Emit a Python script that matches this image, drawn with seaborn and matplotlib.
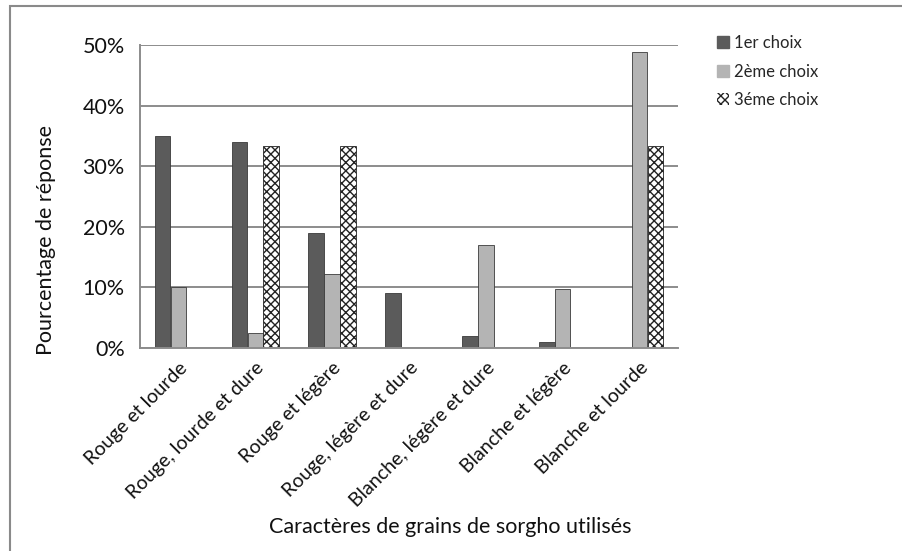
import matplotlib
matplotlib.use("Agg")
import matplotlib.pyplot as plt
import matplotlib.patches as mpatches
from matplotlib.ticker import PercentFormatter
import seaborn as sns
import pandas as pd

categories = ["Rouge et lourde", "Rouge, lourde et dure", "Rouge et légère",
              "Rouge, légère et dure", "Blanche, légère et dure",
              "Blanche et légère", "Blanche et lourde"]
series = ["1er choix", "2ème choix", "3éme choix"]
choix_1 = [0.35, 0.34, 0.19, 0.09, 0.02, 0.01, 0.0]
choix_2 = [0.10, 0.024, 0.122, 0.0, 0.17, 0.098, 0.488]
choix_3 = [0.0, 0.333, 0.333, 0.0, 0.0, 0.0, 0.333]
y_ticks = [0, 0.1, 0.2, 0.3, 0.4, 0.5]
colors = ["#5b5b5b", "#b4b4b4", "#ffffff"]

sns.set_style("white")
plt.rcParams["font.family"] = ["Lato", "DejaVu Sans"]

rows = []
for name, vals in zip(series, [choix_1, choix_2, choix_3]):
    for cat, v in zip(categories, vals):
        rows.append({"cat": cat, "serie": name, "val": v})
df = pd.DataFrame(rows)

fig = plt.figure(figsize=(9.03, 5.51), dpi=100)
W, H = 903, 551
ax = fig.add_axes([140 / W, 1 - 348 / H, (678 - 140) / W, (348 - 45) / H])

sns.barplot(data=df, x="cat", y="val", hue="serie", order=categories,
            hue_order=series, palette=colors, width=0.62, gap=0.02,
            edgecolor="#3a3a3a", linewidth=0.6, ax=ax, legend=False)

# zigzag-like texture for the third choice
for patch in ax.containers[2]:
    patch.set_hatch("xxxx")
    patch.set_edgecolor("#222222")

ax.set_ylim(0, 0.5)
ax.set_xlim(-0.5, len(categories) - 0.5)
ax.set_yticks(y_ticks)
ax.yaxis.set_major_formatter(PercentFormatter(1.0, decimals=0))
ax.yaxis.grid(True, color="#8c8c8c", linewidth=1.4)
ax.set_axisbelow(True)
for side in ["top", "right"]:
    ax.spines[side].set_visible(False)
ax.spines["left"].set_color("#8c8c8c")
ax.spines["bottom"].set_color("#8c8c8c")
ax.spines["left"].set_linewidth(1.4)
ax.spines["bottom"].set_linewidth(1.4)

# category separators as tick marks on the x axis
ax.set_xticks([i - 0.5 for i in range(len(categories) + 1)], minor=True)
ax.tick_params(axis="x", which="minor", length=6, color="#8c8c8c", width=1.2)
ax.tick_params(axis="x", which="major", length=0, pad=8)
ax.tick_params(axis="y", length=6, color="#8c8c8c", width=1.2, labelsize=15.5,
               labelcolor="#111111", pad=5)
ax.set_xticks(range(len(categories)))
ax.set_xticklabels(categories, rotation=45, ha="right", rotation_mode="anchor",
                   fontsize=14, color="#111111")

ax.set_xlabel("Caractères de grains de sorgho utilisés", fontsize=15.5,
              color="#111111")
ax.set_ylabel("Pourcentage de réponse", fontsize=15.5, color="#111111")
ax.xaxis.set_label_coords((450 - 140) / 538, (348 - 517) / 303)
ax.yaxis.set_label_coords((56 - 140) / 538, (348 - 240) / 303)

handles = [mpatches.Patch(facecolor=colors[0], edgecolor=colors[0]),
           mpatches.Patch(facecolor=colors[1], edgecolor=colors[1]),
           mpatches.Patch(facecolor="white", edgecolor="#222222", hatch="xxxx",
                          linewidth=0)]
fig.legend(handles, series, loc="upper left", bbox_to_anchor=(702 / W, 1 - 20 / H),
           frameon=False, fontsize=12, handlelength=0.7, handleheight=0.7,
           handletextpad=0.35, labelspacing=0.75)

# outer chart border
fig.patches.append(mpatches.Rectangle((10 / W, -0.1), 1.2, 1 - 6 / H + 0.1,
                                      transform=fig.transFigure, fill=False,
                                      edgecolor="#8a8a8a", linewidth=1.5))

fig.savefig("out.png", dpi=100)
